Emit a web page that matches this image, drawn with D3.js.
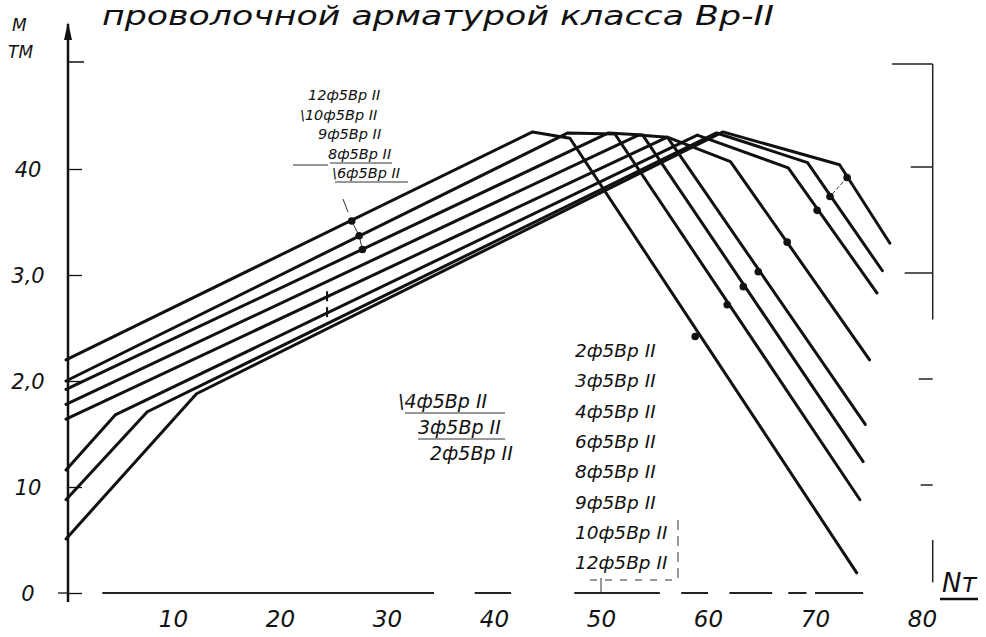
<!DOCTYPE html>
<html>
<head>
<meta charset="utf-8">
<script src="https://cdn.jsdelivr.net/npm/d3@7/dist/d3.min.js"></script>
<style>
  body { margin: 0; background: #fff; }
  text { font-family: "DejaVu Sans", sans-serif; font-style: italic; fill: #111; }
</style>
</head>
<body>
<div id="chartArea"></div>
<script>
// axis ticks
var xTicks = [10, 20, 30, 40, 50, 60, 70, 80];
var yTicks = [0, 10, 20, 30, 40];
var yTickLabels = ["0", "10", "2,0", "3,0", "40"];

// curves [N, M]
var pts12 = [[0, 22.0], [43.6, 43.5], [47.1, 42.9], [73.9, 1.9]];
var pts10 = [[0, 20.0], [46.9, 43.4], [51.3, 43.3], [74.2, 8.8]];
var pts9 = [[0, 19.2], [50.7, 43.4], [53.9, 43.2], [74.5, 12.4]];
var pts8 = [[0, 17.8], [53.5, 43.2], [56.2, 43.0], [74.7, 15.9]];
var pts6 = [[0, 16.4], [56.2, 43.0], [62.1, 40.7], [75.1, 22.0]];
var pts4 = [[0, 11.6], [4.6, 16.8], [59.0, 43.2], [67.5, 40.1], [75.8, 28.3]];
var pts3 = [[0, 8.8], [7.6, 17.1], [60.8, 43.4], [69.3, 40.6], [76.3, 30.4]];
var pts2 = [[0, 5.1], [12.2, 18.8], [61.4, 43.5], [72.3, 40.4], [77.0, 33.0]];

// dots on the curves
var ascDots = [[26.7, 35.1], [27.4, 33.7], [27.7, 32.4]];
var lowDots = [[24.4, 27.9], [24.4, 26.4]];
var descDots = [[73.0, 39.2], [71.4, 37.4], [70.2, 36.1], [67.4, 33.1], [64.7, 30.3], [63.3, 28.9], [61.8, 27.2], [58.8, 24.2]];

// labels
var topLabels = ["12ф5Вр II", "10ф5Вр II", "9ф5Вр II", "8ф5Вр II", "6ф5Вр II"];
var leftLabels = ["4ф5Вр II", "3ф5Вр II", "2ф5Вр II"];
var rightLabels = ["2ф5Вр II", "3ф5Вр II", "4ф5Вр II", "6ф5Вр II", "8ф5Вр II", "9ф5Вр II", "10ф5Вр II", "12ф5Вр II"];

var width = 986, height = 637;

var x = d3.scaleLinear().domain([0, 80]).range([66, 922]);
var y = d3.scaleLinear().domain([0, 40]).range([593, 169]);

var svg = d3.select('#chartArea')
  .append('svg')
  .attr('width', width)
  .attr('height', height)
  .style('background', '#fff');

// title
svg.append('text')
  .attr('x', 102).attr('y', 25)
  .attr('textLength', 672)
  .attr('lengthAdjust', 'spacingAndGlyphs')
  .style('font-size', '26px')
  .text('проволочной арматурой  класса  Вр-II');

svg.append('text').attr('x', 12).attr('y', 31).style('font-size', '17px').text('М');
svg.append('text').attr('x', 8).attr('y', 58).style('font-size', '17px').text('ТМ');

// y axis line with arrow
svg.append('line')
  .attr('x1', 68).attr('x2', 68).attr('y1', 24).attr('y2', 602)
  .attr('stroke', '#111').attr('stroke-width', 2.5);
svg.append('path')
  .attr('d', 'M68,22 L64,40 L72,40 Z')
  .attr('fill', '#111');
svg.append('line')
  .attr('x1', 68).attr('x2', 84).attr('y1', 62).attr('y2', 62)
  .attr('stroke', '#111').attr('stroke-width', 1.5);

var yAxis = d3.axisRight(y)
  .tickValues(yTicks)
  .tickSize(14)
  .tickFormat(function (d, i) { return yTickLabels[i]; });

var gy = svg.append('g')
  .attr('transform', 'translate(68,0)')
  .call(yAxis);
gy.select('.domain').remove();
gy.selectAll('line').attr('stroke', '#111').attr('stroke-width', 1.3);
gy.selectAll('text')
  .attr('x', -40)
  .attr('dy', '0.35em')
  .style('text-anchor', 'middle')
  .style('font-size', '21px')
  .style('font-family', '"DejaVu Sans", sans-serif')
  .style('font-style', 'italic');
// zero tick crosses the axis
svg.append('line')
  .attr('x1', 58).attr('x2', 68).attr('y1', y(0)).attr('y2', y(0))
  .attr('stroke', '#111').attr('stroke-width', 1.3);

// x axis
var xAxis = d3.axisBottom(x).tickValues(xTicks).tickSize(0).tickPadding(18);
var gx = svg.append('g')
  .attr('transform', 'translate(0,' + y(0) + ')')
  .call(xAxis);
gx.select('.domain').remove();
gx.selectAll('text')
  .style('font-size', '23px')
  .style('font-family', '"DejaVu Sans", sans-serif')
  .style('font-style', 'italic');

// broken axis line
var axisSegs = [[3.4, 34.4], [38.2, 41.6], [47.5, 55.5], [57.5, 60.0], [62.0, 66.0], [67.5, 69.2], [70.0, 74.5]];
svg.selectAll('.xseg')
  .data(axisSegs)
  .enter()
  .append('line')
  .attr('class', 'xseg')
  .attr('x1', function (d) { return x(d[0]); })
  .attr('x2', function (d) { return x(d[1]); })
  .attr('y1', y(0)).attr('y2', y(0))
  .attr('stroke', '#222').attr('stroke-width', 2);

// Nт
svg.append('text').attr('x', 942).attr('y', 592).style('font-size', '26px').text('Nт');
svg.append('line').attr('x1', 940).attr('x2', 978).attr('y1', 599).attr('y2', 599)
  .attr('stroke', '#111').attr('stroke-width', 2.5);

// right frame
svg.append('line').attr('x1', x(77.2)).attr('x2', x(81.0)).attr('y1', 64).attr('y2', 64)
  .attr('stroke', '#222').attr('stroke-width', 1.5);
svg.append('line').attr('x1', x(81.0)).attr('x2', x(81.0)).attr('y1', 64).attr('y2', y(25.8))
  .attr('stroke', '#222').attr('stroke-width', 1.5);
svg.append('line').attr('x1', x(81.0)).attr('x2', x(81.0)).attr('y1', y(5)).attr('y2', y(1))
  .attr('stroke', '#222').attr('stroke-width', 1.5);
svg.selectAll('.rtick')
  .data([40, 30, 20, 10])
  .enter()
  .append('line')
  .attr('x1', function (d, i) { return x(81.0) - [22, 28, 14, 12][i]; })
  .attr('x2', x(81.0))
  .attr('y1', function (d) { return y(d) - 2; })
  .attr('y2', function (d) { return y(d) - 2; })
  .attr('stroke', '#222').attr('stroke-width', 1.5);

// curves
var line = d3.line()
  .x(function (d) { return x(d[0]); })
  .y(function (d) { return y(d[1]); });

var curves = [pts12, pts10, pts9, pts8, pts6, pts4, pts3, pts2];
svg.selectAll('.curve')
  .data(curves)
  .enter()
  .append('path')
  .attr('class', 'curve')
  .attr('d', line)
  .attr('fill', 'none')
  .attr('stroke', '#111')
  .attr('stroke-width', 3)
  .attr('stroke-linejoin', 'round')
  .attr('stroke-linecap', 'round');

// thin chains through the dots
svg.append('path').datum(ascDots).attr('d', line)
  .attr('fill', 'none').attr('stroke', '#333').attr('stroke-width', 1);
svg.append('path').datum(descDots.slice(0, 2)).attr('d', line)
  .attr('fill', 'none').attr('stroke', '#333').attr('stroke-width', 1).attr('stroke-dasharray', '4,2');

svg.selectAll('.dot')
  .data(ascDots.concat(descDots))
  .enter()
  .append('circle')
  .attr('class', 'dot')
  .attr('cx', function (d) { return x(d[0]); })
  .attr('cy', function (d) { return y(d[1]); })
  .attr('r', 3.8)
  .attr('fill', '#111');

// small cross marks on the lower lines
svg.selectAll('.mark')
  .data(lowDots)
  .enter()
  .append('line')
  .attr('class', 'mark')
  .attr('x1', function (d) { return x(d[0]); })
  .attr('x2', function (d) { return x(d[0]); })
  .attr('y1', function (d) { return y(d[1]) - 6; })
  .attr('y2', function (d) { return y(d[1]) + 4; })
  .attr('stroke', '#111').attr('stroke-width', 2);

// label groups
svg.selectAll('.tlab')
  .data(topLabels)
  .enter()
  .append('text')
  .attr('class', 'tlab')
  .attr('x', function (d, i) { return [308, 300, 318, 328, 332][i]; })
  .attr('y', function (d, i) { return 100 + i * 19.5; })
  .style('font-size', '14.5px')
  .text(function (d, i) { return (i == 1 || i == 4 ? '\\' : '') + d; });

svg.selectAll('.llab')
  .data(leftLabels)
  .enter()
  .append('text')
  .attr('class', 'llab')
  .attr('x', function (d, i) { return [398, 418, 430][i]; })
  .attr('y', function (d, i) { return 408 + i * 26; })
  .style('font-size', '19px')
  .text(function (d, i) { return (i == 0 ? '\\' : '') + d; });

svg.selectAll('.rlab')
  .data(rightLabels)
  .enter()
  .append('text')
  .attr('class', 'rlab')
  .attr('x', 575)
  .attr('y', function (d, i) { return 357 + i * 30.3; })
  .style('font-size', '18.5px')
  .text(function (d) { return d; });

// underlines
var ul = [[330, 392, 163], [335, 408, 182], [405, 505, 413], [418, 505, 439]];
svg.selectAll('.ul')
  .data(ul)
  .enter()
  .append('line')
  .attr('x1', function (d) { return d[0]; })
  .attr('x2', function (d) { return d[1]; })
  .attr('y1', function (d) { return d[2]; })
  .attr('y2', function (d) { return d[2]; })
  .attr('stroke', '#333').attr('stroke-width', 1);

// leader marks
svg.append('line').attr('x1', 293).attr('x2', 328).attr('y1', 165).attr('y2', 165)
  .attr('stroke', '#333').attr('stroke-width', 1);
svg.append('line').attr('x1', 343).attr('x2', 348).attr('y1', 199).attr('y2', 212)
  .attr('stroke', '#333').attr('stroke-width', 1);
svg.append('line').attr('x1', x(50)).attr('x2', x(50)).attr('y1', 578).attr('y2', y(0))
  .attr('stroke', '#333').attr('stroke-width', 1);
svg.append('line').attr('x1', 590).attr('x2', 676).attr('y1', 580).attr('y2', 580)
  .attr('stroke', '#333').attr('stroke-width', 1).attr('stroke-dasharray', '7,8');
svg.append('line').attr('x1', 678).attr('x2', 678).attr('y1', 520).attr('y2', 580)
  .attr('stroke', '#333').attr('stroke-width', 1).attr('stroke-dasharray', '10,6');
</script>
</body>
</html>
